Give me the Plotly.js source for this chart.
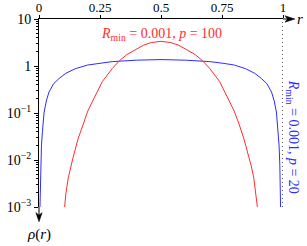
<!DOCTYPE html>
<html><head><meta charset="utf-8">
<script src="https://cdn.plot.ly/plotly-3.0.1.min.js"></script>
<style>html,body{margin:0;padding:0;background:#fff}#c{width:307px;height:246px}</style>
</head><body><div id="c"></div>
<script>
// red curve: R_min = 0.001, p = 100
const redX = [0.105,0.11,0.12,0.13,0.14,0.16,0.18,0.2,0.23,0.26,0.3,0.33,0.36,0.4,0.43,0.46,0.5,
              0.54,0.57,0.6,0.64,0.67,0.7,0.74,0.77,0.8,0.82,0.84,0.86,0.87,0.88,0.89,0.895];
const redY = [0.001,0.0019,0.0042,0.0075,0.0115,0.028,0.058,0.11,0.23,0.47,0.88,1.3,1.75,2.3,2.8,3.15,3.35,
              3.15,2.8,2.3,1.75,1.3,0.88,0.47,0.23,0.11,0.058,0.028,0.0115,0.0075,0.0042,0.0019,0.001];
// blue curve: R_min = 0.001, p = 20
const blueX = [0.004,0.007,0.01,0.014,0.021,0.03,0.041,0.06,0.082,0.11,0.15,0.2,0.25,0.3,0.4,0.5,
               0.6,0.7,0.75,0.8,0.846,0.884,0.912,0.934,0.953,0.964,0.973,0.98,0.984,0.987,0.99];
const blueY = [0.001,0.0078,0.02,0.04,0.105,0.18,0.28,0.42,0.54,0.7,0.88,1.05,1.15,1.24,1.33,1.37,
               1.33,1.24,1.15,1.05,0.88,0.7,0.54,0.42,0.28,0.18,0.105,0.04,0.02,0.0078,0.001];
const xTicks = [0,0.25,0.5,0.75,1];
const xTickText = ['0','0.25','0.5','0.75','1'];
const yTicks = [0.001,0.01,0.1,1,10];
const yTickText = ['10<sup>−3</sup>','10<sup>−2</sup>','10<sup>−1</sup>','1','10'];

const RED = 'rgb(255,45,45)', BLUE = 'rgb(45,45,255)';
const FONT = 'Liberation Serif, DejaVu Serif, serif';

const traces = [
  {x: blueX, y: blueY, mode: 'lines', line: {color: BLUE, width: 1}, hoverinfo: 'skip'},
  {x: redX, y: redY, mode: 'lines', line: {color: RED, width: 1}, hoverinfo: 'skip'}
];

const layout = {
  width: 307, height: 246,
  margin: {l: 39, r: 24, t: 19, b: 39},
  paper_bgcolor: '#fff', plot_bgcolor: '#fff',
  showlegend: false,
  font: {family: FONT, size: 14, color: '#000'},
  xaxis: {
    range: [0, 1], side: 'top', showgrid: false, zeroline: false,
    showline: true, linecolor: '#000', linewidth: 1,
    ticks: 'outside', ticklen: 3, tickcolor: '#000', ticklabelstandoff: -2,
    tickvals: xTicks, ticktext: xTickText, tickfont: {size: 13}
  },
  yaxis: {
    type: 'log', range: [-3, 1], showgrid: false, zeroline: false,
    showline: true, linecolor: '#000', linewidth: 1,
    ticks: 'outside', ticklen: 4, tickcolor: '#000',
    tickvals: yTicks, ticktext: yTickText, tickfont: {size: 14},
    minor: {ticks: 'outside', ticklen: 2, tickcolor: '#000', dtick: 'D1', showgrid: false}
  },
  shapes: [
    {type: 'line', xref: 'x', yref: 'paper', x0: 1, x1: 1, y0: 0, y1: 1,
     line: {color: '#000', width: 1.3, dash: '1px,3px'}},
    {type: 'line', xref: 'paper', yref: 'paper', x0: 0, x1: 0, y0: 0, y1: -0.04,
     line: {color: '#000', width: 1}},
    {type: 'path', xref: 'paper', yref: 'paper',
     path: 'M 0 -0.079 L -0.013 -0.03 L 0 -0.042 L 0.013 -0.03 Z',
     fillcolor: '#000', line: {color: '#000', width: 0.5}},
    {type: 'line', xref: 'paper', yref: 'paper', x0: 1, x1: 1.02, y0: 1, y1: 1,
     line: {color: '#000', width: 1}},
    {type: 'path', xref: 'paper', yref: 'paper',
     path: 'M 1.049 1 L 1.008 1.017 L 1.018 1 L 1.008 0.983 Z',
     fillcolor: '#000', line: {color: '#000', width: 0.5}}
  ],
  annotations: [
    {xref: 'paper', yref: 'paper', x: 0, y: -0.148, text: '<i>ρ</i>(<i>r</i>)',
     showarrow: false, font: {size: 15, family: FONT}, xanchor: 'center', yanchor: 'middle'},
    {xref: 'paper', yref: 'paper', x: 1.07, y: 1, text: '<i>r</i>',
     showarrow: false, font: {size: 15, family: FONT}, xanchor: 'center', yanchor: 'middle'},
    {xref: 'paper', yref: 'paper', x: 0.5, y: 0.915,
     text: '<i>R</i><sub>min</sub> = 0.001, <i>p</i> = 100',
     showarrow: false, font: {size: 14, family: FONT, color: RED}, xanchor: 'center', yanchor: 'middle'},
    {xref: 'paper', yref: 'paper', x: 1.04, y: 0.375, textangle: 90,
     text: '<i>R</i><sub>min</sub> = 0.001, <i>p</i> = 20',
     showarrow: false, font: {size: 14, family: FONT, color: BLUE}, xanchor: 'center', yanchor: 'middle'}
  ]
};

Plotly.newPlot('c', traces, layout, {staticPlot: true, displayModeBar: false});
</script></body></html>
